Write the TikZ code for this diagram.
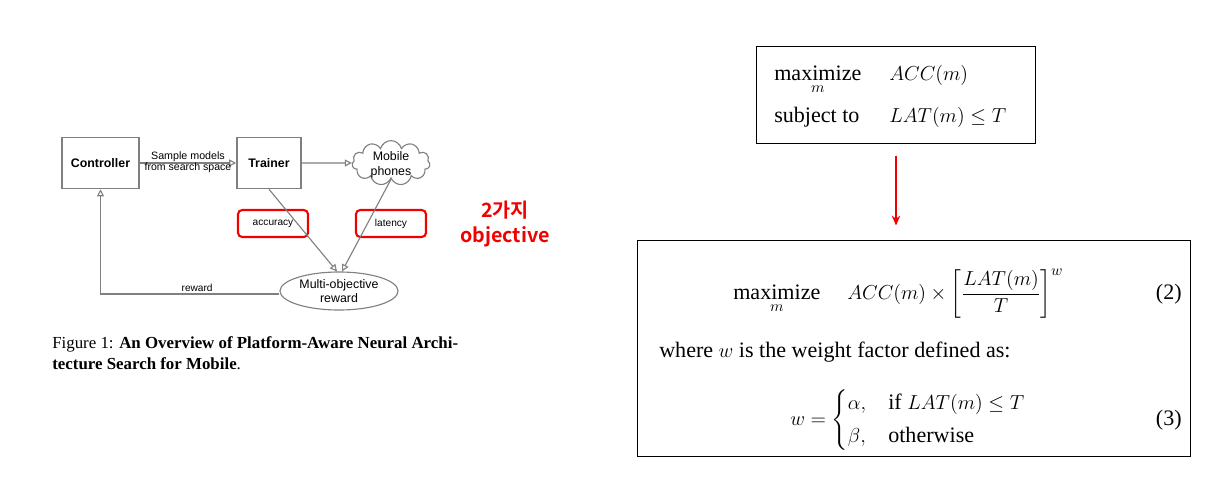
\documentclass[tikz,border=0pt]{standalone}
\usepackage{amsmath}
\usepackage{fontspec}
\setmainfont{Liberation Serif}
\setsansfont{Liberation Sans}
\newfontfamily\krfont{Noto Sans CJK KR}[BoldFont={Noto Sans CJK KR Bold}]
\usetikzlibrary{arrows.meta,shapes.symbols,shapes.geometric,positioning}
\colorlet{lineGray}{black!50}
\colorlet{markRed}{red!95!black}
\tikzset{>=Stealth,
  block/.style={draw=lineGray, line width=1.1pt, inner sep=0pt,
    font=\sffamily\bfseries\fontsize{8.8}{10}\selectfont},
  flow/.style={draw=lineGray, line width=0.8pt, -{Triangle[open,length=5pt,width=5pt]}},
  tag/.style={font=\sffamily\fontsize{7.2}{8.4}\selectfont, inner sep=1pt},
  highlight/.style={draw=markRed, line width=1.5pt, rounded corners=3pt},
  eqtext/.style={font=\fontsize{15.7}{18}\selectfont, inner sep=0pt},
  eqbox/.style={draw, line width=0.7pt, inner sep=0pt}
}
\begin{document}
\begin{tikzpicture}[x=0.025cm,y=-0.025cm]
  \useasboundingbox (0,0) rectangle (1229,480);
  % overview figure
  \node [block, minimum width=1.925cm, minimum height=1.275cm] (ctrl) at (100.5,163) {Controller};
  \node [block, minimum width=1.6cm, minimum height=1.275cm] (trainer) at (269,163) {Trainer};
  \node [cloud, cloud puffs=11, cloud ignores aspect, draw=lineGray, line width=0.8pt, inner sep=0pt,
         minimum width=1.95cm, minimum height=1.12cm] (phones) at (391,163) {};
  \node [align=center, inner sep=0pt, font=\sffamily\fontsize{8.8}{10.7}\selectfont] (phtext)
    at ([yshift=-0.05cm]phones.center) {Mobile\\phones};
  \node [ellipse, draw=lineGray, line width=0.8pt, inner sep=0pt,
         minimum width=2.95cm, minimum height=0.95cm, align=center,
         font=\sffamily\fontsize{8.8}{10.5}\selectfont] (mor) at (339,291) {Multi-objective\\reward};
  \node [tag, highlight, minimum width=1.75cm, minimum height=0.675cm] (acc) at (273,223.5) {accuracy};
  \node [tag, highlight, minimum width=1.75cm, minimum height=0.675cm] (lat) at (391,223.5) {latency};

  \draw [flow] (ctrl) -- (trainer)
    node [tag, above, midway, yshift=-0.5pt, font=\sffamily\fontsize{7.6}{8.6}\selectfont] {Sample models}
    node [tag, below, midway, yshift=1.5pt, font=\sffamily\fontsize{7.5}{8.6}\selectfont] {from search space};
  \draw [flow] (trainer) -- (phones);
  \draw [flow] (trainer.south) -- ([xshift=-0.05cm]mor.north);
  \draw [flow] (phones.south) -- ([xshift=0.075cm]mor.north);
  \draw [flow] ([yshift=-0.075cm]mor.west) -| (ctrl.south)
    node [tag, above, pos=0.23] {reward};

  \node [markRed, align=center, font=\krfont\bfseries\fontsize{14}{17.8}\selectfont] (note) at (505,224) {2가지\\objective};

  \node [anchor=north west, align=left, inner sep=0pt, font=\fontsize{12}{15}\selectfont] (cap) at (52,336)
    {Figure 1: \textbf{An Overview of Platform-Aware Neural Archi-}\\\textbf{tecture Search for Mobile}.};

  % constrained objective
  \node [eqbox, minimum width=6.95cm, minimum height=2.4cm] (box1) at (896,95) {};
  \node [eqtext, anchor=base west] (max1) at (774,80) {$\underset{m}{\text{maximize}}$};
  \node [eqtext, anchor=base west] (acc1) at (889,80) {$ACC(m)$};
  \node [eqtext, anchor=base west] (st1) at (774,122) {subject to};
  \node [eqtext, anchor=base west] (lat1) at (889,122) {$LAT(m) \le T$};

  % weighted objective
  \node [eqbox, minimum width=13.8cm, minimum height=5.375cm] (box2) at (914,348.5) {};
  \node [eqtext, anchor=base west] (max2) at (733,299) {$\underset{m}{\text{maximize}}$};
  \node [eqtext, anchor=base west] (obj2) at (847,299) {$ACC(m) \times \left[\dfrac{LAT(m)}{T}\right]^{w}$};
  \node [eqtext, anchor=base east] (num2) at (1182,299) {(2)};
  \node [eqtext, anchor=base west] (where) at (659,357) {where $w$ is the weight factor defined as:};
  \node [eqtext, anchor=base west] (wdef) at (790,425) {$w = \begin{cases} \alpha, & \text{if } LAT(m) \le T \\[1.5pt] \beta, & \text{otherwise} \end{cases}$};
  \node [eqtext, anchor=base east] (num3) at (1182,425) {(3)};

  \draw [markRed, line width=1pt, -{Stealth[length=7pt,width=6pt]}, shorten <=0.3cm, shorten >=0.375cm]
    (box1.south) -- (box1.south |- box2.north);
\end{tikzpicture}
\end{document}
